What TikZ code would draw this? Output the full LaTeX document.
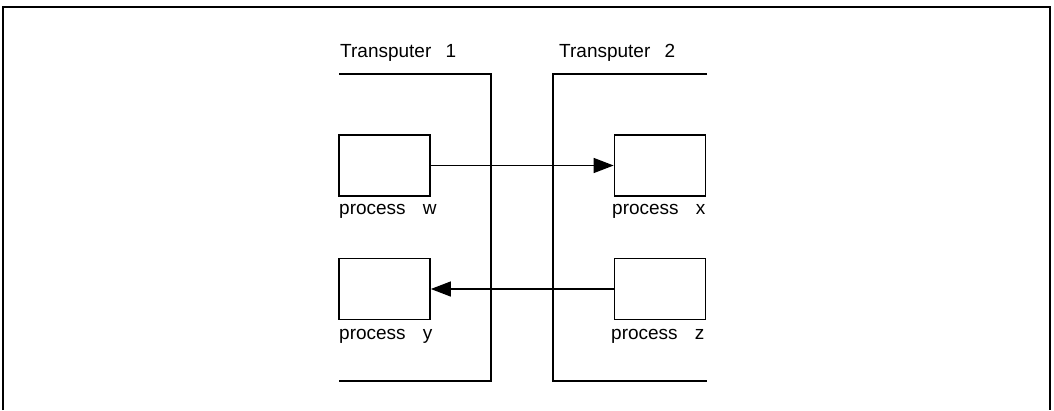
\documentclass[tikz,border=0pt]{standalone}
\usepackage{fontspec}
\setmainfont{Liberation Sans}
\usetikzlibrary{arrows.meta}

\begin{document}
\begin{tikzpicture}[x=1pt, y=-1pt,
  proc/.style={draw, line width=1.7pt, minimum width=91pt,
    minimum height=61pt, inner sep=0pt},
  lbl/.style={anchor=base west, inner sep=0pt,
    font=\fontsize{19}{22}\selectfont},
  wall/.style={line width=1.7pt},
  link/.style={line width=1.3pt,
    -{Triangle[length=20pt,width=15pt]}}]
  \useasboundingbox (0,0) rectangle (1054,410);
  \draw[line width=1.3pt] (3,410) -- (3,7) -- (1050,7) -- (1050,410);
  \draw[wall] (339,74) -- (491,74) -- (491,381) -- (339,381);
  \draw[wall] (707,74) -- (553,74) -- (553,381) -- (707,381);
  \node[lbl] (t1) at (340,57) {Transputer\hspace{0.75em}1};
  \node[lbl] (t2) at (559,57) {Transputer\hspace{0.75em}2};
  \node[proc] (w) at (384.5,165.5) {};
  \node[proc] (x) at (660,165.5) {};
  \node[proc] (y) at (384.5,289) {};
  \node[proc] (z) at (660,289) {};
  \node[lbl] (lw) at (339,214) {process\hspace{0.9em}w};
  \node[lbl] (lx) at (612,214) {process\hspace{0.9em}x};
  \node[lbl] (ly) at (339,339) {process\hspace{0.9em}y};
  \node[lbl] (lz) at (611,339) {process\hspace{0.9em}z};
  \draw[link] (w) -- (x);
  \draw[link] (z) -- (y);
\end{tikzpicture}
\end{document}
